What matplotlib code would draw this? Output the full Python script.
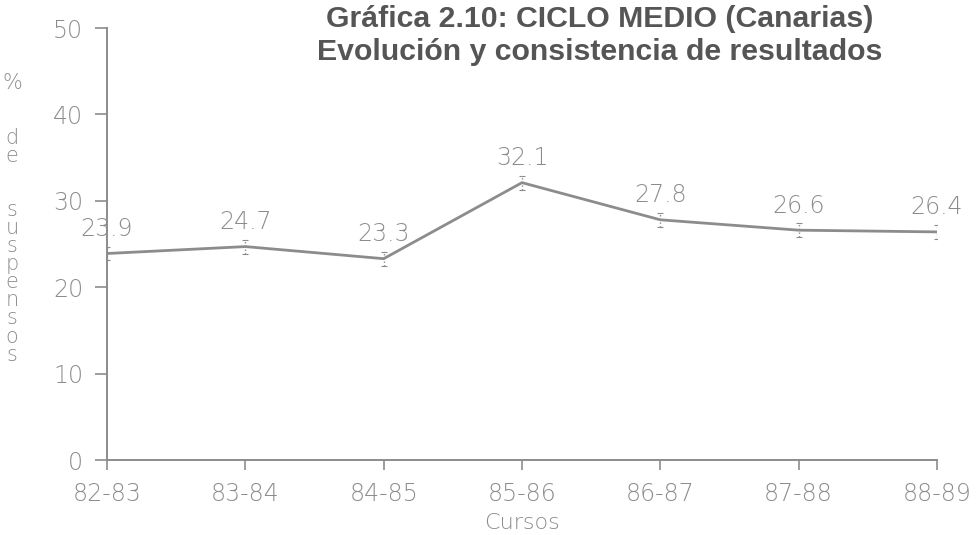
import numpy as np
import matplotlib.pyplot as plt

# datos de la grafica
cursos = ['82-83', '83-84', '84-85', '85-86', '86-87', '87-88', '88-89']
suspensos = [23.9, 24.7, 23.3, 32.1, 27.8, 26.6, 26.4]
etiquetas = ['23.9', '24.7', '23.3', '32.1', '27.8', '26.6', '26.4']
errores = [0.8, 0.8, 0.8, 0.8, 0.8, 0.8, 0.8]

gris = '#8c8c8c'
plt.rcParams['font.family'] = ['DejaVu Sans']

fig = plt.figure(figsize=(9.78, 5.35), dpi=100)
ax = fig.add_axes([107 / 978, 1 - 460 / 535, 830 / 978, 432 / 535])

x = np.arange(len(cursos))
ax.plot(x, suspensos, color=gris, lw=2.0)
eb = ax.errorbar(x, suspensos, yerr=errores, fmt='none', ecolor=gris, elinewidth=1.0,
                 capsize=2, capthick=0.8)
eb[2][0].set_linestyle(':')

for xi, yi, t in zip(x, suspensos, etiquetas):
    ax.annotate(t, (xi, yi), xytext=(0, 9), textcoords='offset points',
                ha='center', va='bottom', fontsize=17, color=gris, fontweight='light')

ax.set_xlim(0, len(cursos) - 1)
ax.set_ylim(0, 50)
ax.set_xticks(x)
ax.set_xticklabels(cursos)
ax.set_yticks([0, 10, 20, 30, 40, 50])

for s in ['top', 'right']:
    ax.spines[s].set_visible(False)
for s in ['left', 'bottom']:
    ax.spines[s].set_color(gris)
    ax.spines[s].set_linewidth(1.4)
ax.tick_params(colors=gris, labelsize=17, width=1.2)
ax.tick_params(axis='x', length=7, pad=9)
ax.tick_params(axis='y', length=8.6, pad=8.5)
for lab in ax.get_xticklabels() + ax.get_yticklabels():
    lab.set_fontweight('light')
ax.patch.set_visible(False)

ax.set_xlabel('Cursos', fontsize=16, color=gris, labelpad=5, fontweight='light')

fig.text(0.613, 0.99, 'Gráfica 2.10: CICLO MEDIO (Canarias)\nEvolución y consistencia de resultados',
         ha='center', va='top', fontsize=21.8, fontweight='bold', color='#555555',
         linespacing=1.2, family=['Liberation Sans', 'DejaVu Sans'])

fig.text(12 / 978, 1 - 219 / 535, '%\n\n\nd\ne\n\n\ns\nu\ns\np\ne\nn\ns\no\ns',
         ha='center', va='center', fontsize=15, color=gris, linespacing=0.88,
         fontweight='light')

fig.savefig('out.png', dpi=100)
